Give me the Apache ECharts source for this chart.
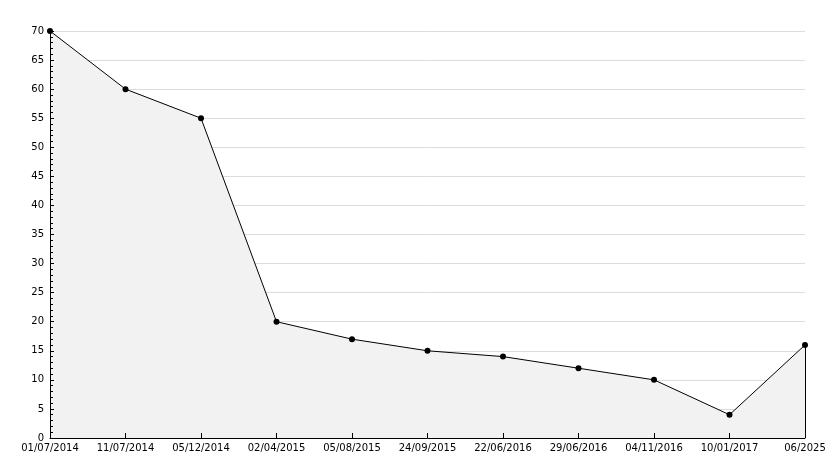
<!DOCTYPE html>
<html><head><meta charset="utf-8">
<script src="https://cdn.jsdelivr.net/npm/echarts@6/dist/echarts.min.js"></script>
<style>html,body{margin:0;padding:0;background:#fff}#c{width:834px;height:468px}</style>
</head><body><div id="c"></div>
<script>
var categories = ['01/07/2014','11/07/2014','05/12/2014','02/04/2015','05/08/2015','24/09/2015','22/06/2016','29/06/2016','04/11/2016','10/01/2017','06/2025'];
var values = [70, 60, 55, 20, 17, 15, 14, 12, 10, 4, 16];
var yTicks = {min: 0, max: 70, interval: 5};

var font = 'DejaVu Sans';
var chart = echarts.init(document.getElementById('c'), null, {renderer: 'canvas'});
var last = categories.length - 1;
chart.setOption({
  animation: false,
  backgroundColor: '#fff',
  grid: {left: 50, right: 29, top: 31, bottom: 30, containLabel: false},
  xAxis: {
    type: 'category', data: categories, boundaryGap: false, z: 10,
    axisLine: {show: true, lineStyle: {color: '#000', width: 1}},
    axisTick: {show: true, inside: true, length: 5, lineStyle: {color: '#000'}},
    axisLabel: {color: '#000', fontFamily: font, fontSize: 10, margin: 5, interval: 0, hideOverlap: false},
    splitLine: {show: false}
  },
  yAxis: [{
    type: 'value', min: yTicks.min, max: yTicks.max, interval: yTicks.interval, z: 0,
    axisLine: {show: false}, axisTick: {show: false}, axisLabel: {show: false},
    splitLine: {show: true, lineStyle: {color: '#dcdcdc', width: 1}}
  }, {
    type: 'value', position: 'left', min: yTicks.min, max: yTicks.max, interval: yTicks.interval, z: 10,
    axisLine: {show: true, lineStyle: {color: '#000', width: 1}},
    axisTick: {show: true, inside: true, length: 4, lineStyle: {color: '#000'}},
    minorTick: {show: true, splitNumber: 5, length: 3, lineStyle: {color: '#000'}},
    axisLabel: {color: '#000', fontFamily: font, fontSize: 10, margin: 6},
    splitLine: {show: false}
  }],
  series: [{
    type: 'line', data: values, yAxisIndex: 0, z: 2,
    symbol: 'circle', symbolSize: 6,
    itemStyle: {color: '#000'},
    lineStyle: {color: '#000', width: 1},
    areaStyle: {color: '#f2f2f2', opacity: 1},
    markLine: {
      silent: true, symbol: 'none', label: {show: false},
      lineStyle: {color: '#000', width: 1, type: 'solid'},
      data: [[{coord: [categories[last], 0]}, {coord: [categories[last], values[last]]}]]
    }
  }]
});
</script></body></html>
